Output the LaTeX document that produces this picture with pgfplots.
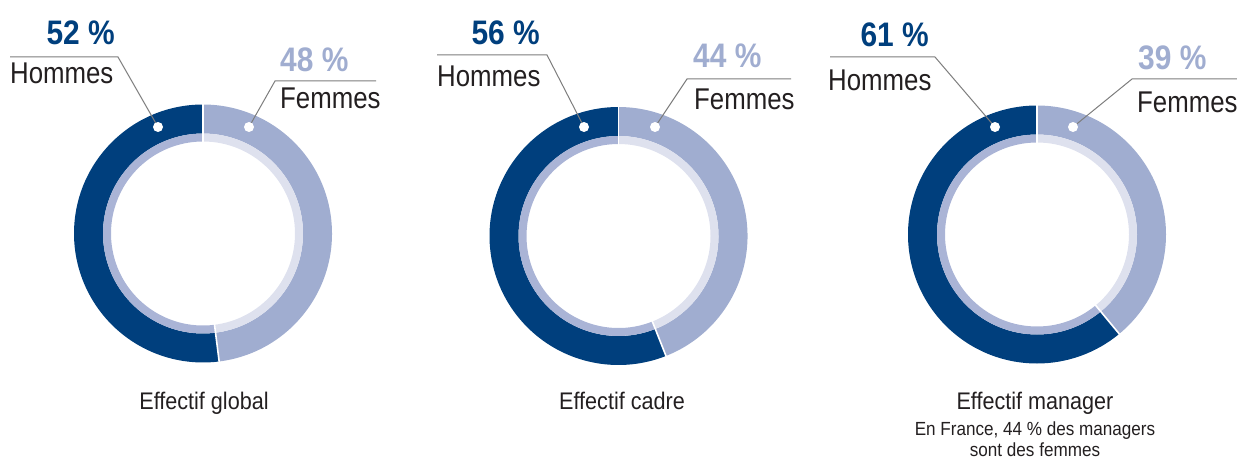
\documentclass[border=0pt]{standalone}
\usepackage{fontspec}
\usepackage{pgfplots}
\pgfplotsset{compat=1.18}
\usetikzlibrary{calc}
\setmainfont{Liberation Sans}[FakeStretch=0.9]
\newfontfamily\labfont{Liberation Sans}[FakeStretch=0.86]
\newfontfamily\numfont{Liberation Sans Bold}[FakeStretch=0.88]
\definecolor{hom}{RGB}{0,63,125}
\definecolor{fem}{RGB}{160,173,208}
\definecolor{homin}{RGB}{170,180,214}
\definecolor{femin}{RGB}{222,225,238}
\definecolor{lead}{RGB}{125,125,125}
\definecolor{txt}{RGB}{35,31,32}
% #1 cx, #2 cy, #3 share of men (percent)
\newcommand{\donut}[3]{%
  \fill[hom] ($(axis cs:#1,#2)+(90:129pt)$) arc[start angle=90, end angle={90+3.6*#3}, radius=129pt]
     -- ($(axis cs:#1,#2)+({90+3.6*#3}:100pt)$) arc[start angle={90+3.6*#3}, end angle=90, radius=100pt] -- cycle;
  \fill[fem] ($(axis cs:#1,#2)+({90+3.6*#3}:129pt)$) arc[start angle={90+3.6*#3}, end angle=450, radius=129pt]
     -- ($(axis cs:#1,#2)+(90:100pt)$) arc[start angle=450, end angle={90+3.6*#3}, radius=100pt] -- cycle;
  \fill[homin] ($(axis cs:#1,#2)+(90:100pt)$) arc[start angle=90, end angle={90+3.6*#3}, radius=100pt]
     -- ($(axis cs:#1,#2)+({90+3.6*#3}:92pt)$) arc[start angle={90+3.6*#3}, end angle=90, radius=92pt] -- cycle;
  \fill[femin] ($(axis cs:#1,#2)+({90+3.6*#3}:100pt)$) arc[start angle={90+3.6*#3}, end angle=450, radius=100pt]
     -- ($(axis cs:#1,#2)+(90:92pt)$) arc[start angle=450, end angle={90+3.6*#3}, radius=92pt] -- cycle;
  \draw[white, line width=1.6pt] ($(axis cs:#1,#2)+(90:91pt)$) -- ($(axis cs:#1,#2)+(90:130pt)$);
  \draw[white, line width=1.6pt] ($(axis cs:#1,#2)+({90+3.6*#3}:91pt)$) -- ($(axis cs:#1,#2)+({90+3.6*#3}:130pt)$);
}
\tikzset{
  mylab/.style={inner sep=0pt, text=txt, font=\labfont\fontsize{30}{32}\selectfont},
  mypct/.style={inner sep=0pt, font=\numfont\fontsize{34}{36}\selectfont},
  mycap/.style={inner sep=0pt, text=txt, font=\fontsize{24}{26}\selectfont},
  mysub/.style={inner sep=0pt, text=txt, font=\fontsize{19}{21}\selectfont},
  myldr/.style={lead, line width=1pt},
}
\begin{document}
\begin{tikzpicture}
\path[use as bounding box, clip] (0,0) rectangle (1237pt,459pt);
\begin{axis}[x=1pt, y=1pt, xmin=0, xmax=1237, ymin=0, ymax=459,
  hide axis, clip=false, scale only axis, at={(0,0)}, anchor=south west]
% donuts: centre x, centre y, share of men
\donut{203}{225.5}{52}
\donut{618.5}{223}{56}
\donut{1037}{224.5}{61}
% leader lines and dots
\draw[myldr] (axis cs:10,402) -- (axis cs:118,402) -- (axis cs:158,332);
\draw[myldr] (axis cs:376,378) -- (axis cs:275,378) -- (axis cs:249,332);
\draw[myldr] (axis cs:437,404) -- (axis cs:547,404) -- (axis cs:584,332);
\draw[myldr] (axis cs:791,380) -- (axis cs:687,380) -- (axis cs:655,332);
\draw[myldr] (axis cs:830,402) -- (axis cs:935,402) -- (axis cs:995,332);
\draw[myldr] (axis cs:1237,380) -- (axis cs:1132,380) -- (axis cs:1073,332);
\fill[white] (axis cs:158,332) circle[radius=5pt];
\fill[white] (axis cs:249,332) circle[radius=5pt];
\fill[white] (axis cs:584,332) circle[radius=5pt];
\fill[white] (axis cs:655,332) circle[radius=5pt];
\fill[white] (axis cs:995,332) circle[radius=5pt];
\fill[white] (axis cs:1073,332) circle[radius=5pt];
% labels
\node[mypct, text=hom, anchor=base east] at (axis cs:115,414) {52 \%};
\node[mylab, anchor=base west] at (axis cs:10,375) {Hommes};
\node[mypct, text=fem, anchor=base west] at (axis cs:280,387) {48 \%};
\node[mylab, anchor=base west] at (axis cs:280,351) {Femmes};
\node[mypct, text=hom, anchor=base east] at (axis cs:540,414) {56 \%};
\node[mylab, anchor=base west] at (axis cs:437,373) {Hommes};
\node[mypct, text=fem, anchor=base west] at (axis cs:693,391) {44 \%};
\node[mylab, anchor=base west] at (axis cs:694,349) {Femmes};
\node[mypct, text=hom, anchor=base east] at (axis cs:929,412) {61 \%};
\node[mylab, anchor=base west] at (axis cs:828,369) {Hommes};
\node[mypct, text=fem, anchor=base west] at (axis cs:1138,389) {39 \%};
\node[mylab, anchor=base west] at (axis cs:1137,347) {Femmes};
% captions
\node[mycap, anchor=base] at (axis cs:204,50) {Effectif global};
\node[mycap, anchor=base] at (axis cs:622,50) {Effectif cadre};
\node[mycap, anchor=base] at (axis cs:1035,50) {Effectif manager};
\node[mysub, anchor=base] at (axis cs:1035,24) {En France, 44 \% des managers};
\node[mysub, anchor=base] at (axis cs:1035,3) {sont des femmes};
\end{axis}
\end{tikzpicture}
\end{document}
